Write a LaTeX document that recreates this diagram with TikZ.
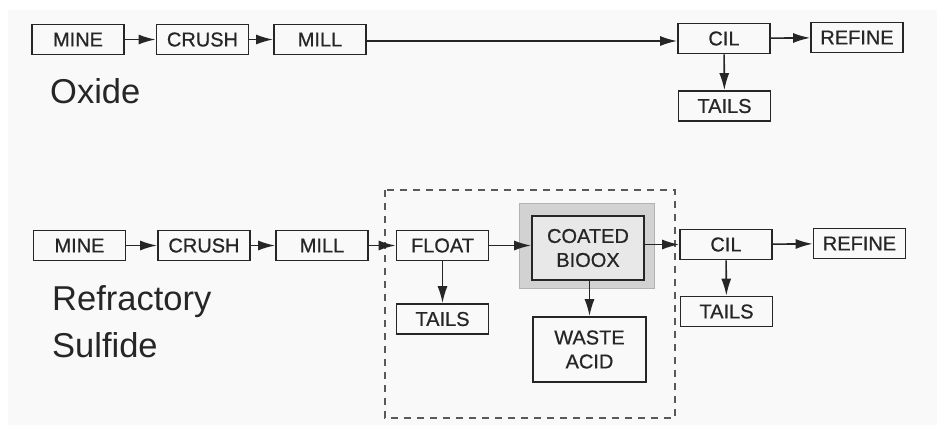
\documentclass[tikz,border=0pt]{standalone}
\usepackage{fontspec}
\setmainfont{Liberation Sans}
\newfontfamily\boxfont[FakeBold=0.7]{Liberation Sans}
\usetikzlibrary{arrows.meta}
\tikzset{
  box/.style={draw=black!85, line width=1.8pt, minimum width=92pt, minimum height=30pt, inner sep=0pt, font=\boxfont\fontsize{20}{24}\selectfont, text=black!85, align=center},
  bigbox/.style={box, minimum width=112pt, minimum height=64pt},
  flow/.style={line width=1.6pt, draw=black!85, -{Latex[length=17pt,width=10pt]}},
  title/.style={anchor=base west, inner sep=0pt, text=black!85, font=\fontsize{34.5}{40}\selectfont}
}
\begin{document}
\begin{tikzpicture}[x=1pt,y=-1pt]
\useasboundingbox (0,0) rectangle (937,437);
\fill[gray!5] (8,10) rectangle (937,425);
% top row (Oxide)
\node[box] (mine1) at (78,39.5) {MINE};
\node[box] (crush1) at (202.5,39.5) {CRUSH};
\node[box] (mill1) at (320,39.5) {MILL};
\node[box] (cil1) at (724,38.5) {CIL};
\node[box] (refine1) at (857,37.5) {REFINE};
\node[box] (tails1) at (724.5,106) {TAILS};
\node[title] (oxide) at (50,103) {Oxide};
\draw[flow] (mine1) -- (crush1);
\draw[flow] (crush1) -- (mill1);
\draw[flow] (mill1.east |- 0,41) -- (cil1.west |- 0,41);
\draw[flow] (cil1) -- (refine1);
\draw[flow] (cil1) -- (tails1);
% bottom row (Refractory sulfide)
\draw[line width=1.3pt, dash pattern=on 7pt off 6pt, gray!70!black] (385,190) rectangle (675,418);
\fill[gray!35] (519,203) rectangle (654,288);
\draw[gray!60, line width=0.8pt] (519,203) rectangle (654,288);
\node[box] (mine2) at (79.5,245.5) {MINE};
\node[box] (crush2) at (204,245.5) {CRUSH};
\node[box] (mill2) at (322,245.5) {MILL};
\node[box] (float) at (442.5,245.5) {FLOAT};
\node[box] (tails2) at (442.5,319) {TAILS};
\node[bigbox, fill=gray!18] (bioox) at (588,248) {COATED\\BIOOX};
\node[bigbox, minimum width=113pt, minimum height=65pt] (waste) at (589.5,349.5) {WASTE\\ACID};
\node[box] (cil2) at (726,244.5) {CIL};
\node[box] (refine2) at (859.5,243.5) {REFINE};
\node[box] (tails3) at (726.5,311.5) {TAILS};
\node[title] (refr) at (52,310) {Refractory};
\node[title] (sulf) at (52,357) {Sulfide};
\draw[flow] (mine2) -- (crush2);
\draw[flow] (crush2) -- (mill2);
\draw[flow] (mill2) -- (float);
\draw[flow] (float) -- (tails2);
\draw[flow] (float.east) -- (bioox.west |- float.east);
\draw[flow] (bioox.east |- cil2.west) -- (cil2.west);
\draw[flow] (bioox.south -| waste.north) -- (waste.north);
\draw[flow] (cil2) -- (refine2);
\draw[flow] (cil2) -- (tails3);
\end{tikzpicture}
\end{document}
